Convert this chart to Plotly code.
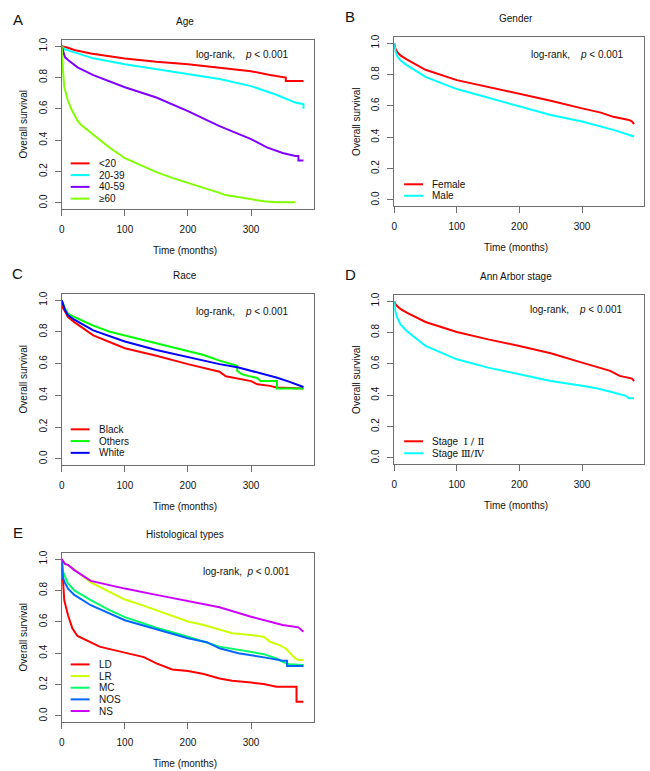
import plotly.graph_objects as go

# ---------------- data ----------------
# Panel A: Age
age_lt20_t = [0, 10, 20, 46, 100, 150, 200, 250, 300, 330, 350, 355, 355, 383]
age_lt20_s = [1.0, 0.99, 0.975, 0.953, 0.921, 0.90, 0.885, 0.862, 0.84, 0.816, 0.805, 0.80, 0.778, 0.778]
age_20_39_t = [0, 5, 20, 50, 100, 150, 200, 250, 300, 340, 370, 380, 383, 383]
age_20_39_s = [1.0, 0.98, 0.96, 0.922, 0.885, 0.852, 0.822, 0.79, 0.745, 0.69, 0.64, 0.63, 0.63, 0.60]
age_40_59_t = [0, 5, 10, 25, 50, 100, 150, 200, 250, 300, 325, 350, 370, 375, 375, 383]
age_40_59_s = [1.0, 0.93, 0.912, 0.865, 0.815, 0.738, 0.672, 0.585, 0.49, 0.407, 0.354, 0.318, 0.30, 0.30, 0.27, 0.27]
age_ge60_t = [0, 1, 4, 10, 15, 25, 30, 50, 75, 100, 125, 150, 175, 200, 225, 250, 260, 300, 320, 340, 370]
age_ge60_s = [1.0, 0.90, 0.74, 0.65, 0.60, 0.525, 0.50, 0.435, 0.355, 0.285, 0.24, 0.196, 0.16, 0.129, 0.10, 0.064, 0.05, 0.025, 0.01, 0.004, 0.004]

# Panel B: Gender
female_t = [0, 2, 5, 10, 20, 50, 100, 150, 200, 250, 300, 330, 350, 365, 375, 380, 383]
female_s = [1.0, 0.964, 0.943, 0.922, 0.897, 0.83, 0.764, 0.72, 0.675, 0.633, 0.584, 0.557, 0.53, 0.517, 0.51, 0.50, 0.483]
male_t = [0, 2, 5, 10, 20, 50, 100, 150, 200, 250, 300, 350, 383]
male_s = [1.0, 0.95, 0.916, 0.89, 0.86, 0.785, 0.707, 0.652, 0.60, 0.542, 0.50, 0.447, 0.405]

# Panel C: Race
black_t = [0, 2, 5, 10, 20, 50, 100, 150, 200, 250, 260, 280, 300, 310, 330, 340, 383]
black_s = [1.0, 0.95, 0.93, 0.894, 0.862, 0.778, 0.697, 0.65, 0.597, 0.549, 0.52, 0.506, 0.49, 0.47, 0.46, 0.45, 0.443]
others_t = [0, 5, 10, 20, 50, 75, 100, 150, 175, 200, 225, 250, 270, 278, 278, 285, 295, 300, 310, 315, 341, 341, 383]
others_s = [1.0, 0.95, 0.915, 0.894, 0.84, 0.803, 0.778, 0.73, 0.703, 0.682, 0.655, 0.619, 0.597, 0.587, 0.555, 0.534, 0.523, 0.52, 0.51, 0.49, 0.49, 0.443, 0.443]
white_t = [0, 5, 10, 20, 50, 100, 150, 200, 250, 280, 300, 340, 360, 383]
white_s = [1.0, 0.94, 0.905, 0.877, 0.81, 0.74, 0.686, 0.64, 0.597, 0.576, 0.555, 0.513, 0.487, 0.453]

# Panel D: Ann Arbor stage
stage12_t = [0, 2, 5, 10, 20, 50, 100, 150, 200, 250, 300, 325, 345, 360, 375, 380, 383]
stage12_s = [1.0, 0.98, 0.968, 0.95, 0.926, 0.867, 0.803, 0.756, 0.714, 0.667, 0.608, 0.576, 0.555, 0.523, 0.513, 0.506, 0.49]
stage34_t = [0, 2, 5, 10, 20, 50, 100, 150, 200, 250, 300, 325, 350, 370, 375, 383]
stage34_s = [1.0, 0.93, 0.894, 0.852, 0.81, 0.714, 0.629, 0.576, 0.534, 0.49, 0.46, 0.443, 0.417, 0.396, 0.38, 0.38]

# Panel E: Histological types
ld_t = [0, 1, 4, 10, 17, 25, 30, 46, 60, 73, 100, 130, 150, 175, 200, 225, 250, 270, 300, 320, 340, 372, 372, 383]
ld_s = [1.0, 0.91, 0.738, 0.642, 0.557, 0.51, 0.50, 0.471, 0.442, 0.429, 0.405, 0.375, 0.335, 0.296, 0.286, 0.267, 0.239, 0.224, 0.213, 0.203, 0.186, 0.186, 0.09, 0.09]
lr_t = [0, 5, 10, 20, 46, 75, 100, 125, 150, 175, 200, 225, 250, 270, 300, 320, 330, 345, 355, 370, 375, 383]
lr_s = [1.0, 0.97, 0.962, 0.935, 0.851, 0.79, 0.742, 0.71, 0.674, 0.635, 0.602, 0.58, 0.552, 0.527, 0.516, 0.505, 0.473, 0.452, 0.43, 0.367, 0.356, 0.356]
mc_t = [0, 2, 5, 10, 20, 46, 75, 100, 150, 200, 250, 300, 320, 340, 350, 360, 383]
mc_s = [1.0, 0.92, 0.89, 0.845, 0.80, 0.738, 0.676, 0.63, 0.562, 0.505, 0.442, 0.409, 0.394, 0.367, 0.345, 0.33, 0.324]
nos_t = [0, 2, 5, 10, 20, 46, 100, 150, 200, 230, 250, 280, 300, 330, 350, 357, 357, 383]
nos_s = [1.0, 0.88, 0.85, 0.812, 0.772, 0.706, 0.61, 0.552, 0.495, 0.47, 0.431, 0.40, 0.388, 0.367, 0.352, 0.352, 0.318, 0.318]
ns_t = [0, 5, 10, 20, 46, 100, 150, 200, 250, 300, 350, 375, 383]
ns_s = [1.0, 0.97, 0.963, 0.93, 0.861, 0.812, 0.772, 0.733, 0.693, 0.633, 0.58, 0.565, 0.537]

x_ticks = [0, 100, 200, 300]
y_ticks = [0.0, 0.2, 0.4, 0.6, 0.8, 1.0]

panel_letters = ["A", "B", "C", "D", "E"]
panel_titles = ["Age", "Gender", "Race", "Ann Arbor stage", "Histological types"]
x_title = "Time (months)"
y_title = "Overall survival"
logrank_text = "log-rank,&nbsp;&nbsp;&nbsp; <i>p</i> &lt; 0.001"
logrank_text_e = "log-rank,&nbsp; <i>p</i> &lt; 0.001"

SERIF = "<span style='font-family:DejaVu Serif, Liberation Serif, serif'>{}</span>"

panels = [
    [("<20", age_lt20_t, age_lt20_s, "#FF0000"),
     ("20-39", age_20_39_t, age_20_39_s, "#00FFFF"),
     ("40-59", age_40_59_t, age_40_59_s, "#8000FF"),
     ("≥60", age_ge60_t, age_ge60_s, "#80FF00")],
    [("Female", female_t, female_s, "#FF0000"),
     ("Male", male_t, male_s, "#00FFFF")],
    [("Black", black_t, black_s, "#FF0000"),
     ("Others", others_t, others_s, "#00FF00"),
     ("White", white_t, white_s, "#0000FF")],
    [("Stage&nbsp; " + SERIF.format("Ⅰ / Ⅱ"), stage12_t, stage12_s, "#FF0000"),
     ("Stage " + SERIF.format("Ⅲ/Ⅳ"), stage34_t, stage34_s, "#00FFFF")],
    [("LD", ld_t, ld_s, "#FF0000"),
     ("LR", lr_t, lr_s, "#CCFF00"),
     ("MC", mc_t, mc_s, "#00FF66"),
     ("NOS", nos_t, nos_s, "#0066FF"),
     ("NS", ns_t, ns_s, "#CC00FF")],
]

# ---------------- layout geometry (pixels in a 650x771 page) ----------------
W, H = 650, 771
def px(x):
    return x / W
def py(y):
    return 1 - y / H

# plot boxes: left, right, top, bottom (pixels)
boxes = [
    (59, 312, 37, 207),
    (393, 644, 34, 204),
    (59, 312, 292, 464),
    (393, 644, 293, 463),
    (59, 312, 552, 722),
]
# legend placement: key line x0, x1, text x, first row y, row step
legend_pos = [
    (68, 87, 94, 161, 11.8),
    (403, 422, 429, 182, 11.5),
    (68, 87, 94, 428, 11.8),
    (403, 422, 429, 440, 12.0),
    (68, 87, 94, 664, 11.7),
]
logrank_pos = [(240, 52), (577, 52), (240, 310), (576, 308), (245, 571)]

FONT = "Liberation Sans, Arial, Helvetica, sans-serif"
BOXCOL = "#6e6e6e"

fig = go.Figure()
annotations = []
shapes = []

for i, (groups, box) in enumerate(zip(panels, boxes)):
    n = i + 1
    xa = "x" if n == 1 else f"x{n}"
    ya = "y" if n == 1 else f"y{n}"
    for name, t, s, col in groups:
        fig.add_trace(go.Scatter(x=t, y=s, mode="lines", name=name,
                                 line=dict(color=col, width=2),
                                 xaxis=xa, yaxis=ya, showlegend=False,
                                 hoverinfo="skip"))
    l, r, top, bot = box
    axis_common = dict(showline=True, mirror=True, linecolor=BOXCOL, linewidth=1,
                       ticks="outside", ticklen=6, tickcolor=BOXCOL, tickwidth=1,
                       showgrid=False, zeroline=False,
                       tickfont=dict(family=FONT, size=10, color="#111111"))
    fig.layout[f"xaxis{'' if n == 1 else n}"] = dict(
        domain=[px(l), px(r)], anchor=ya, range=[0, 399],
        tickvals=x_ticks, ticklabelstandoff=5, **axis_common)
    fig.layout[f"yaxis{'' if n == 1 else n}"] = dict(
        domain=[py(bot), py(top)], anchor=xa, range=[-0.04, 1.04],
        tickvals=y_ticks, tickformat=".1f", tickangle=-90,
        ticklabelstandoff=4, **axis_common)

    cx = (l + r) / 2 - 3
    cy = (top + bot) / 2
    # panel letter
    annotations.append(dict(x=px(l - 44), y=py(top - 20), xref="paper", yref="paper",
                            text=panel_letters[i], showarrow=False,
                            font=dict(family=FONT, size=15, color="#111111"),
                            xanchor="center", yanchor="middle"))
    # title
    annotations.append(dict(x=px(cx), y=py(top - 18), xref="paper", yref="paper",
                            text=panel_titles[i], showarrow=False,
                            font=dict(family=FONT, size=10, color="#111111"),
                            xanchor="center", yanchor="middle"))
    # axis titles
    annotations.append(dict(x=px(cx), y=py(bot + 41), xref="paper", yref="paper",
                            text=x_title, showarrow=False,
                            font=dict(family=FONT, size=10, color="#111111"),
                            xanchor="center", yanchor="middle"))
    annotations.append(dict(x=px(l - 38), y=py(cy), xref="paper", yref="paper",
                            text=y_title, showarrow=False, textangle=-90,
                            font=dict(family=FONT, size=10, color="#111111"),
                            xanchor="center", yanchor="middle"))
    # log-rank
    lx, ly = logrank_pos[i]
    annotations.append(dict(x=px(lx), y=py(ly), xref="paper", yref="paper",
                            text=logrank_text_e if n == 5 else logrank_text,
                            showarrow=False,
                            font=dict(family=FONT, size=10, color="#111111"),
                            xanchor="center", yanchor="middle"))
    # legend
    k0, k1, tx, ry, step = legend_pos[i]
    for j, (name, t, s, col) in enumerate(groups):
        yy = ry + j * step
        shapes.append(dict(type="line", xref="paper", yref="paper",
                           x0=px(k0), x1=px(k1), y0=py(yy), y1=py(yy),
                           line=dict(color=col, width=2)))
        annotations.append(dict(x=px(tx), y=py(yy), xref="paper", yref="paper",
                                text=name, showarrow=False,
                                font=dict(family=FONT, size=10, color="#111111"),
                                xanchor="left", yanchor="middle"))

fig.update_layout(width=W, height=H, margin=dict(l=0, r=0, t=0, b=0),
                  paper_bgcolor="white", plot_bgcolor="white",
                  showlegend=False, annotations=annotations, shapes=shapes,
                  font=dict(family=FONT, size=10))

fig.write_html("out.html", config={"displayModeBar": False},
               post_script="document.body.style.margin='0';document.body.style.overflow='hidden';")
